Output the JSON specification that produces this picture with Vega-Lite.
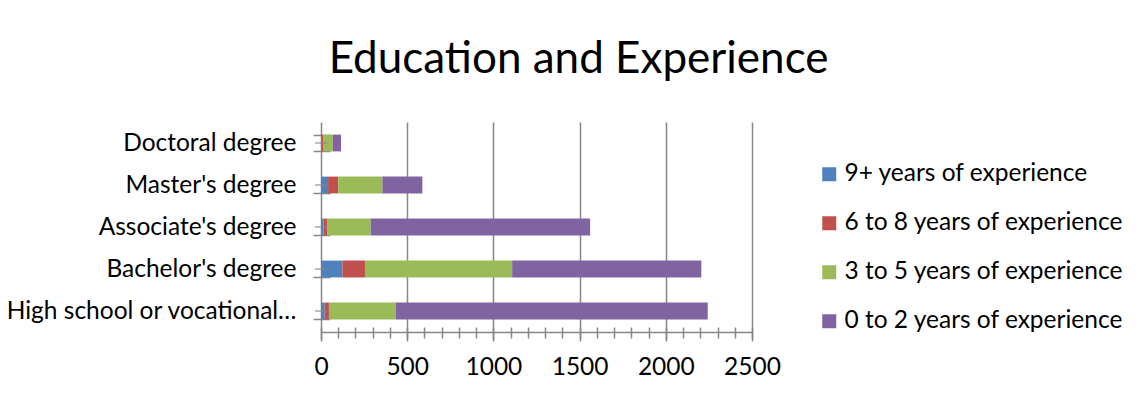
{
  "$schema": "https://vega.github.io/schema/vega-lite/v6.json",
  "autosize": "none",
  "width": 431,
  "height": 210,
  "padding": {"left": 321, "top": 122, "right": 387, "bottom": 62},
  "background": "white",
  "title": {
    "text": "Education and Experience",
    "font": "Lato",
    "fontSize": 44,
    "fontWeight": "normal",
    "color": "#000000",
    "anchor": "middle",
    "frame": "bounds",
    "baseline": "alphabetic",
    "offset": -8,
    "dx": -6
  },
  "data": {
    "values": [
      {"degree": "Doctoral degree", "experience": "9+ years of experience", "count": 4},
      {"degree": "Doctoral degree", "experience": "6 to 8 years of experience", "count": 8},
      {"degree": "Doctoral degree", "experience": "3 to 5 years of experience", "count": 56},
      {"degree": "Doctoral degree", "experience": "0 to 2 years of experience", "count": 48},
      {"degree": "Master's degree", "experience": "9+ years of experience", "count": 41},
      {"degree": "Master's degree", "experience": "6 to 8 years of experience", "count": 59},
      {"degree": "Master's degree", "experience": "3 to 5 years of experience", "count": 256},
      {"degree": "Master's degree", "experience": "0 to 2 years of experience", "count": 232},
      {"degree": "Associate's degree", "experience": "9+ years of experience", "count": 15},
      {"degree": "Associate's degree", "experience": "6 to 8 years of experience", "count": 20},
      {"degree": "Associate's degree", "experience": "3 to 5 years of experience", "count": 253},
      {"degree": "Associate's degree", "experience": "0 to 2 years of experience", "count": 1273},
      {"degree": "Bachelor's degree", "experience": "9+ years of experience", "count": 124},
      {"degree": "Bachelor's degree", "experience": "6 to 8 years of experience", "count": 131},
      {"degree": "Bachelor's degree", "experience": "3 to 5 years of experience", "count": 854},
      {"degree": "Bachelor's degree", "experience": "0 to 2 years of experience", "count": 1097},
      {"degree": "High school or vocational…", "experience": "9+ years of experience", "count": 21},
      {"degree": "High school or vocational…", "experience": "6 to 8 years of experience", "count": 25},
      {"degree": "High school or vocational…", "experience": "3 to 5 years of experience", "count": 387},
      {"degree": "High school or vocational…", "experience": "0 to 2 years of experience", "count": 1810}
    ]
  },
  "layer": [
    {
      "mark": {"type": "bar"},
      "encoding": {
        "y": {
          "field": "degree",
          "type": "nominal",
          "sort": ["Doctoral degree", "Master's degree", "Associate's degree", "Bachelor's degree", "High school or vocational…"],
          "scale": {"paddingInner": 0.6, "paddingOuter": 0.3},
          "axis": {
            "title": null,
            "domain": false,
            "tickBand": "extent",
            "tickSize": 17,
            "offset": -9,
            "labelPadding": 17,
            "labelLimit": 400
          }
        },
        "x": {
          "field": "count",
          "type": "quantitative",
          "stack": "zero",
          "scale": {"domain": [0, 2500], "nice": false},
          "axis": {
            "title": null,
            "values": [0, 500, 1000, 1500, 2000, 2500],
            "format": "d",
            "grid": true,
            "tickSize": 9,
            "labelPadding": 14,
            "labelFlush": false
          }
        },
        "color": {
          "field": "experience",
          "type": "nominal",
          "scale": {
            "domain": ["9+ years of experience", "6 to 8 years of experience", "3 to 5 years of experience", "0 to 2 years of experience"],
            "range": ["#4F81BD", "#C0504D", "#9BBB59", "#8064A2"]
          },
          "legend": {
            "title": null,
            "orient": "right",
            "offset": 25,
            "padding": 40,
            "symbolType": "square",
            "symbolSize": 196,
            "symbolStrokeWidth": 0,
            "labelOffset": 3,
            "rowPadding": 24,
            "labelLimit": 400
          }
        },
        "order": {"field": "experience", "sort": "descending"}
      }
    },
    {
      "transform": [{"filter": "datum.experience === '9+ years of experience'"}],
      "mark": {"type": "tick", "orient": "horizontal", "size": 12, "thickness": 1.5, "color": "#868686"},
      "encoding": {
        "y": {
          "field": "degree",
          "type": "nominal",
          "sort": ["Doctoral degree", "Master's degree", "Associate's degree", "Bachelor's degree", "High school or vocational…"]
        },
        "x": {
          "datum": 0,
          "type": "quantitative",
          "axis": {
            "title": null,
            "orient": "bottom",
            "values": [0, 100, 200, 300, 400, 500, 600, 700, 800, 900, 1000, 1100, 1200, 1300, 1400, 1500, 1600, 1700, 1800, 1900, 2000, 2100, 2200, 2300, 2400, 2500],
            "grid": false,
            "domain": false,
            "labels": false,
            "tickSize": 11,
            "offset": -5
          }
        }
      }
    }
  ],
  "resolve": {"axis": {"x": "independent"}},
  "config": {
    "view": {"stroke": null},
    "font": "Lato",
    "axis": {
      "labelFont": "Lato",
      "labelFontSize": 24.5,
      "labelColor": "#000000",
      "domainColor": "#868686",
      "domainWidth": 1.5,
      "tickColor": "#868686",
      "tickWidth": 1.5,
      "gridColor": "#868686",
      "gridWidth": 1.5,
      "gridOpacity": 1
    },
    "legend": {
      "labelFont": "Lato",
      "labelFontSize": 24.5,
      "labelColor": "#000000"
    }
  }
}
